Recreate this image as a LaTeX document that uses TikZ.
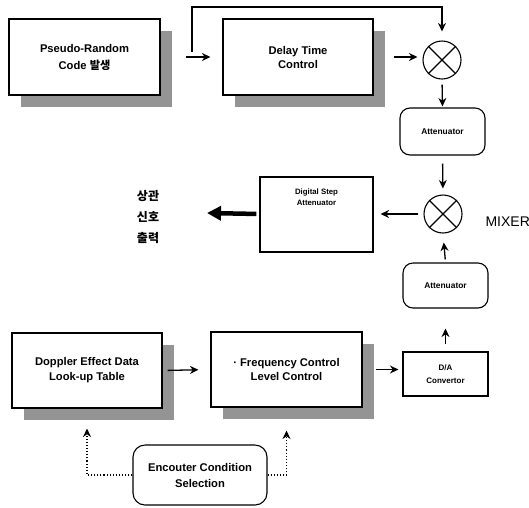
\documentclass[tikz,border=0pt]{standalone}
\usepackage{fontspec}
\setmainfont{Liberation Sans}
\newfontfamily\kr{Noto Sans CJK KR}
\usetikzlibrary{arrows.meta,shadows}
\begin{document}
\begin{tikzpicture}[x=1pt,y=-1pt,
  box/.style={draw, line width=1.1pt, align=center, inner sep=0pt, fill=white,
    font=\bfseries\fontsize{11.2}{14}\selectfont},
  shbox/.style={box, general shadow={fill=black!42, shadow xshift=12pt, shadow yshift=-12pt}},
  rbox/.style={box, rounded corners=10pt},
  smallfont/.style={font=\bfseries\fontsize{8.4}{11}\selectfont},
  mixer/.style={draw, circle, line width=1.1pt, minimum size=38pt, inner sep=0pt},
  arr/.style={line width=1.3pt, -{Stealth[length=8.5pt,width=8pt]}},
  dotarr/.style={line width=1.1pt, dotted, -{Stealth[length=8.5pt,width=8pt]}},
  bigarr/.style={line width=4.5pt, -{Triangle[length=14pt,width=14pt]}},
  plain/.style={line width=1.2pt}
]
\useasboundingbox (0,0) rectangle (529,507);

% boxes
\node[shbox, minimum width=151pt, minimum height=76pt, font=\bfseries\fontsize{11.2}{17}\selectfont] (prc) at (84.5,57) {Pseudo-Random\\Code {\kr 발생}};
\node[shbox, minimum width=150pt, minimum height=76pt] (dly) at (298,57) {Delay Time\\Control};
\node[mixer] (m1) at (442,60) {};
\node[rbox, smallfont, minimum width=85pt, minimum height=47pt] (att1) at (442.5,131.5) {Attenuator};
\node[mixer] (m2) at (443,214) {};
\node[box, minimum width=113pt, minimum height=75pt,
  label={[font=\bfseries\fontsize{7.8}{10.5}\selectfont, align=center, anchor=center, yshift=-21pt]north:{Digital Step\\Attenuator}}] (dsa) at (316.5,214.5) {};
\node[rbox, smallfont, minimum width=85pt, minimum height=45pt] (att2) at (445.5,285.5) {Attenuator};
\node[box, font=\bfseries\fontsize{8}{13}\selectfont, minimum width=85pt, minimum height=44pt] (da) at (445.5,374) {D/A\\Convertor};
\node[shbox, minimum width=150pt, minimum height=75pt, font=\bfseries\fontsize{11.2}{15}\selectfont] (dop) at (87,370.5) {Doppler Effect Data\\Look-up Table};
\node[shbox, minimum width=151pt, minimum height=75pt] (frq) at (286.5,369.5) {{\normalfont\bfseries·} Frequency Control\\Level Control};
\node[rbox, rounded corners=12pt, minimum width=134pt, minimum height=60pt, font=\bfseries\fontsize{11.2}{16}\selectfont] (enc) at (200,475) {Encouter Condition\\Selection};

% labels
\node[font=\fontsize{14}{16}\selectfont, anchor=west] (mixlbl) at (482,222) {MIXER};
\node[font=\kr\bfseries\fontsize{12}{21}\selectfont, align=center] (out) at (148,217) {상관\\신호\\출력};

% mixer crosses
\foreach \m in {m1,m2}{
  \draw[line width=1.1pt] (\m.north west) -- (\m.south east);
  \draw[line width=1.1pt] (\m.north east) -- (\m.south west);
}

% connectors
\coordinate (br) at (192,52);
\coordinate (tp) at (192,7);
\coordinate (outend) at (207,213);

\draw[arr, shorten <=25pt, shorten >=12pt] (prc.east) -- (dly.west);
\draw[arr, shorten >=9pt] (br) -- (tp) -| (m1.north);
\draw[arr, shorten <=20pt, shorten >=5pt] (dly.east) -- (dly.east -| m1.west);
\draw[arr, shorten <=5pt, shorten >=1pt] (m1.south) -- (att1.north);
\draw[arr, shorten <=8pt, shorten >=6pt] (att1.south) -- (m2.north);
\draw[arr, shorten <=5pt, shorten >=7pt] (m2.west) -- (m2.west -| dsa.east);
\draw[bigarr, shorten <=3pt] (dsa.west |- m2.west) -- (outend);
\draw[arr, shorten <=3pt, shorten >=9pt] (att2.north) -- (m2.south);
\draw[arr, shorten <=7pt, shorten >=20pt] (da.north) -- (att2.south);
\draw[arr, shorten <=5pt, shorten >=12pt] (dop.east) -- (frq.west);
\draw[arr, shorten <=13pt, shorten >=4pt] (frq.east) -- (frq.east -| da.west);
\draw[dotarr, shorten >=20pt] (enc.west) -| (dop.south);
\draw[dotarr, shorten >=23pt] (enc.east) -| (frq.south);
\end{tikzpicture}
\end{document}
